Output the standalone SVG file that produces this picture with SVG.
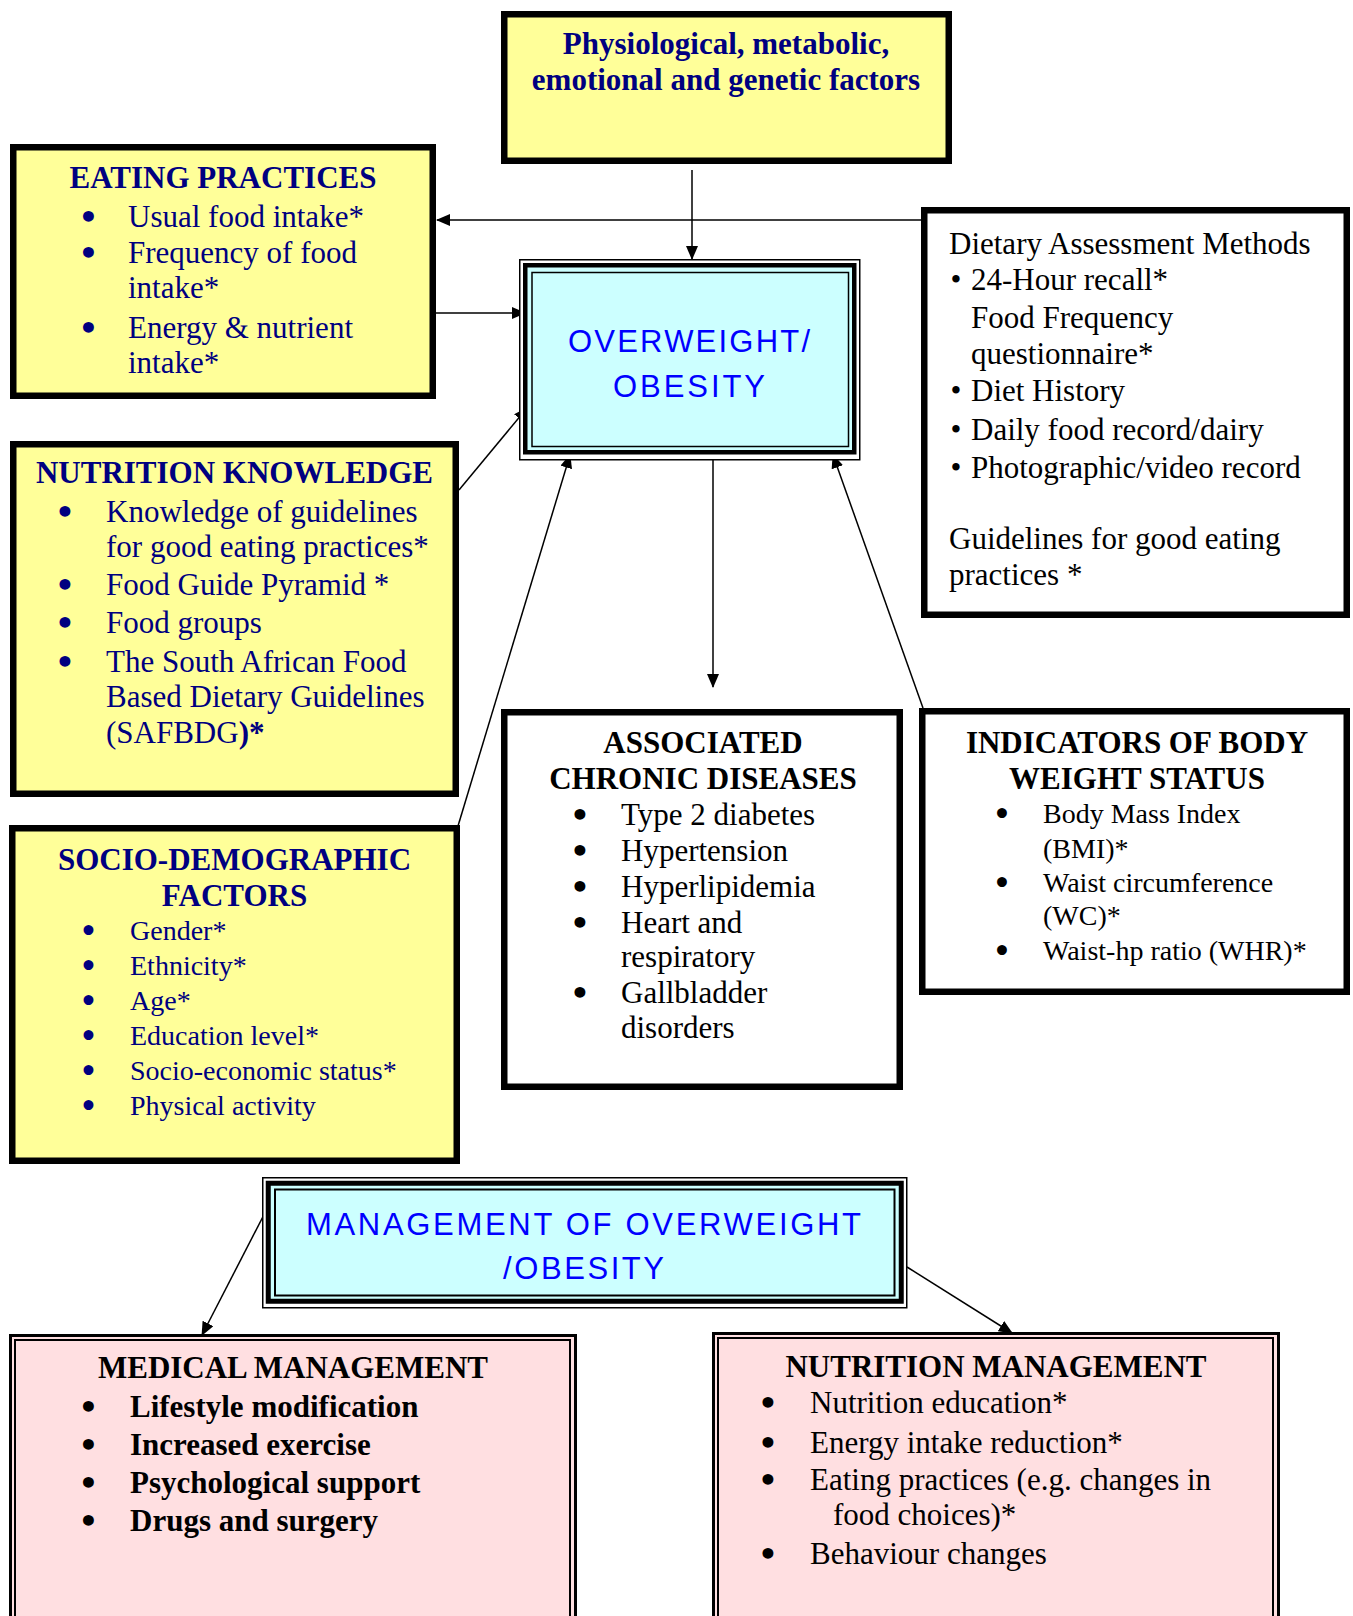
<svg xmlns="http://www.w3.org/2000/svg" width="1353" height="1616" viewBox="0 0 1353 1616">
<style>
.box{stroke:#000;stroke-width:6.5}
.yl{fill:#ffff99}
.wt{fill:#fff}
.pk{fill:#ffdfe1}
.cy{fill:#ccffff}
.t{font-family:"Liberation Serif","Times New Roman",serif;font-size:31px;fill:#000}
.nv{fill:#000080}
.b{font-weight:bold}
.s{font-size:28px}
.c{text-anchor:middle}
.bl{font-family:"DejaVu Sans",sans-serif;text-anchor:middle;font-weight:bold}
.sans{font-family:"Liberation Sans",Arial,sans-serif;font-size:31px;fill:#0000ff;text-anchor:middle}
.con{stroke:#000;stroke-width:1.5;fill:none;marker-end:url(#ah)}
</style>
<defs>
<marker id="ah" markerWidth="14" markerHeight="12" refX="13" refY="6" orient="auto" markerUnits="userSpaceOnUse">
<path d="M0,0 L14,6 L0,12 z" fill="#000"/>
</marker>
</defs>
<rect width="1353" height="1616" fill="#fff"/>

<g id="connectors">
<path class="con" d="M692,170 L692,259"/>
<path class="con" d="M921,220 L437,220"/>
<path class="con" d="M436,313 L525,313"/>
<path class="con" d="M459,490 L527,408"/>
<path class="con" d="M458,826 L570,455"/>
<path class="con" d="M713,460 L713,687"/>
<path class="con" d="M923,708 L833,455"/>
<path class="con" d="M270,1203 L202,1335"/>
<path class="con" d="M907,1267 L1012,1333"/>
</g>

<g id="physiological">
<rect class="box yl" x="504.25" y="14.25" width="444.5" height="146.5"/>
<text class="t nv b c" x="726" y="54">Physiological, metabolic,</text>
<text class="t nv b c" x="726" y="90">emotional and genetic factors</text>
</g>

<g id="eating-practices">
<rect class="box yl" x="13.25" y="147.25" width="419.5" height="248.5"/>
<text class="t nv b c" x="223" y="188">EATING PRACTICES</text>
<g class="t nv">
<text x="88.5" class="bl" y="228">•</text><text x="128" y="227">Usual food intake*</text>
<text x="88.5" class="bl" y="264">•</text><text x="128" y="263">Frequency of food</text>
<text x="128" y="298">intake*</text>
<text x="88.5" class="bl" y="339">•</text><text x="128" y="338">Energy &amp; nutrient</text>
<text x="128" y="373">intake*</text>
</g>
</g>

<g id="dietary-assessment">
<rect class="box wt" x="924.25" y="210.25" width="422.5" height="404.5"/>
<g class="t">
<text x="949" y="254">Dietary Assessment Methods</text>
<text x="956" class="c" y="290">•</text><text x="971" y="290">24-Hour recall*</text>
<text x="971" y="328">Food Frequency</text>
<text x="971" y="364">questionnaire*</text>
<text x="956" class="c" y="401">•</text><text x="971" y="401">Diet History</text>
<text x="956" class="c" y="440">•</text><text x="971" y="440">Daily food record/dairy</text>
<text x="956" class="c" y="478">•</text><text x="971" y="478">Photographic/video record</text>
<text x="949" y="549">Guidelines for good eating</text>
<text x="949" y="585">practices *</text>
</g>
</g>

<g id="overweight-obesity">
<rect x="519.75" y="259.75" width="340" height="200" fill="#fff" stroke="#000" stroke-width="1.5"/>
<rect x="525.25" y="265.25" width="329" height="187" class="cy" stroke="#000" stroke-width="4.5"/>
<rect x="532" y="272.5" width="316.5" height="174" fill="none" stroke="#000" stroke-width="1.5"/>
<text class="sans" x="689" y="352" textLength="242" lengthAdjust="spacing">OVERWEIGHT/</text>
<text class="sans" x="689" y="397" textLength="152" lengthAdjust="spacing">OBESITY</text>
</g>

<g id="nutrition-knowledge">
<rect class="box yl" x="13.25" y="444.25" width="442.5" height="349.5"/>
<text class="t nv b c" x="234.5" y="483">NUTRITION KNOWLEDGE</text>
<g class="t nv">
<text x="65" class="bl" y="523">•</text><text x="106" y="522">Knowledge of guidelines</text>
<text x="106" y="557">for good eating practices*</text>
<text x="65" class="bl" y="596">•</text><text x="106" y="595">Food Guide Pyramid *</text>
<text x="65" class="bl" y="634">•</text><text x="106" y="633">Food groups</text>
<text x="65" class="bl" y="673">•</text><text x="106" y="672">The South African Food</text>
<text x="106" y="707">Based Dietary Guidelines</text>
<text x="106" y="743">(SAFBDG<tspan class="b">)*</tspan></text>
</g>
</g>

<g id="socio-demographic">
<rect class="box yl" x="12.25" y="828.25" width="444.5" height="332.5"/>
<text class="t nv b c" x="234.5" y="870">SOCIO-DEMOGRAPHIC</text>
<text class="t nv b c" x="234.5" y="906">FACTORS</text>
<g class="t nv s">
<text x="88.5" class="bl" y="941">•</text><text x="130" y="940">Gender*</text>
<text x="88.5" class="bl" y="976">•</text><text x="130" y="975">Ethnicity*</text>
<text x="88.5" class="bl" y="1011">•</text><text x="130" y="1010">Age*</text>
<text x="88.5" class="bl" y="1046">•</text><text x="130" y="1045">Education level*</text>
<text x="88.5" class="bl" y="1081">•</text><text x="130" y="1080">Socio-economic status*</text>
<text x="88.5" class="bl" y="1116">•</text><text x="130" y="1115">Physical activity</text>
</g>
</g>

<g id="associated-chronic-diseases">
<rect class="box wt" x="504.25" y="712.25" width="395.5" height="374.5"/>
<text class="t b c" x="703" y="753">ASSOCIATED</text>
<text class="t b c" x="703" y="789">CHRONIC DISEASES</text>
<g class="t">
<text x="580" class="bl" y="826">•</text><text x="621" y="825">Type 2 diabetes</text>
<text x="580" class="bl" y="862">•</text><text x="621" y="861">Hypertension</text>
<text x="580" class="bl" y="898">•</text><text x="621" y="897">Hyperlipidemia</text>
<text x="580" class="bl" y="934">•</text><text x="621" y="933">Heart and</text>
<text x="621" y="967">respiratory</text>
<text x="580" class="bl" y="1004">•</text><text x="621" y="1003">Gallbladder</text>
<text x="621" y="1038">disorders</text>
</g>
</g>

<g id="indicators-body-weight">
<rect class="box wt" x="922.25" y="711.25" width="424.5" height="280.5"/>
<text class="t b c" x="1137" y="753">INDICATORS OF BODY</text>
<text class="t b c" x="1137" y="789">WEIGHT STATUS</text>
<g class="t s">
<text x="1002" class="bl" y="824">•</text><text x="1043" y="823">Body Mass Index</text>
<text x="1043" y="858">(BMI)*</text>
<text x="1002" class="bl" y="893">•</text><text x="1043" y="892">Waist circumference</text>
<text x="1043" y="925">(WC)*</text>
<text x="1002" class="bl" y="961">•</text><text x="1043" y="960">Waist-hp ratio (WHR)*</text>
</g>
</g>

<g id="management">
<rect x="262.75" y="1177.75" width="644" height="130" fill="#fff" stroke="#000" stroke-width="1.5"/>
<rect x="268.25" y="1183.25" width="633" height="118" class="cy" stroke="#000" stroke-width="5"/>
<rect x="275" y="1189.5" width="619.5" height="106" fill="none" stroke="#000" stroke-width="2"/>
<text class="sans" x="583.5" y="1235" textLength="555" lengthAdjust="spacing">MANAGEMENT OF OVERWEIGHT</text>
<text class="sans" x="583.5" y="1279" textLength="161" lengthAdjust="spacing">/OBESITY</text>
</g>

<g id="medical-management">
<rect x="10.5" y="1335.5" width="565" height="300" class="pk" stroke="#000" stroke-width="3"/>
<rect x="15" y="1340" width="555" height="300" fill="none" stroke="#000" stroke-width="2"/>
<text class="t b c" x="293" y="1378">MEDICAL MANAGEMENT</text>
<g class="t b">
<text x="88.5" class="bl" y="1418">•</text><text x="130" y="1417">Lifestyle modification</text>
<text x="88.5" class="bl" y="1456">•</text><text x="130" y="1455">Increased exercise</text>
<text x="88.5" class="bl" y="1494">•</text><text x="130" y="1493">Psychological support</text>
<text x="88.5" class="bl" y="1532">•</text><text x="130" y="1531">Drugs and surgery</text>
</g>
</g>

<g id="nutrition-management">
<rect x="713.5" y="1333.5" width="565" height="300" class="pk" stroke="#000" stroke-width="3"/>
<rect x="718" y="1338" width="555" height="300" fill="none" stroke="#000" stroke-width="2"/>
<text class="t b c" x="996" y="1377">NUTRITION MANAGEMENT</text>
<g class="t">
<text x="768" class="bl" y="1414">•</text><text x="810" y="1413">Nutrition education*</text>
<text x="768" class="bl" y="1454">•</text><text x="810" y="1453">Energy intake reduction*</text>
<text x="768" class="bl" y="1491">•</text><text x="810" y="1490">Eating practices (e.g. changes in</text>
<text x="833" y="1525">food choices)*</text>
<text x="768" class="bl" y="1565">•</text><text x="810" y="1564">Behaviour changes</text>
</g>
</g>
</svg>
